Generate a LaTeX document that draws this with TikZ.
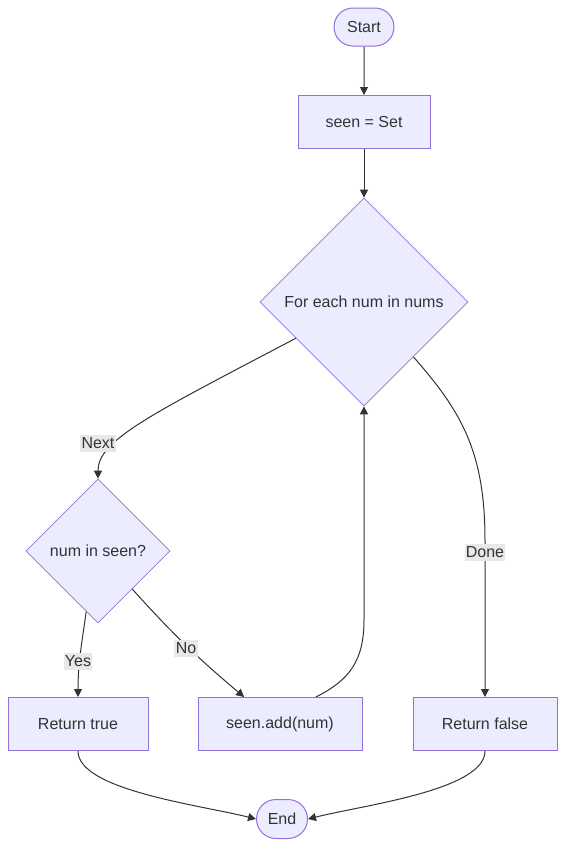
\documentclass[tikz,border=0pt]{standalone}
\usepackage{fontspec}
\setmainfont{Liberation Sans}
\usetikzlibrary{shapes.geometric}
\usetikzlibrary{shapes.misc}
\usetikzlibrary{arrows.meta}

\definecolor{boxfill}{HTML}{ECECFF}
\definecolor{boxline}{HTML}{9370DB}
\definecolor{edgeline}{HTML}{333333}
\definecolor{lblfill}{HTML}{E8E8E8}

\begin{document}
\begin{tikzpicture}[x=0.75pt, y=0.75pt,
    font=\fontsize{12}{14}\selectfont, text=edgeline,
    box/.style={draw=boxline, fill=boxfill, line width=0.75pt, minimum height=39.75pt, inner sep=0pt},
    term/.style={box, rounded rectangle},
    test/.style={box, diamond, line width=0.5pt},
    lbl/.style={fill=lblfill, inner xsep=1pt, inner ysep=0pt, minimum height=12.75pt},
    flow/.style={draw=edgeline, line width=0.75pt, -{Triangle[length=6pt, width=6pt]}}]
  \path[use as bounding box, fill=white] (0, 0) rectangle (573, -858);

  % nodes
  \node[term, minimum width=45pt, minimum height=28.5pt] (start) at (364, -27) {Start};
  \node[box, minimum width=99pt] (seen) at (364, -122) {seen = Set};
  \node[test, minimum width=156pt, minimum height=156pt] (loop) at (364, -302) {For each num in nums};
  \node[test, minimum width=108pt, minimum height=108pt] (check) at (98, -551) {num in seen?};
  \node[box, minimum width=105pt] (rtrue) at (78, -724) {Return true};
  \node[box, minimum width=123pt] (addn) at (280, -724) {seen.add(num)};
  \node[box, minimum width=108pt] (rfalse) at (485, -724) {Return false};
  \node[term, minimum width=38.25pt, minimum height=29.25pt] (stop) at (282, -819) {End};

  % connectors
  \draw[flow] (start) -- (seen);
  \draw[flow] (seen) -- (loop);
  \draw[flow] (loop.208) .. controls (150, -415) and (98, -440) .. (check.north);
  \draw[flow] (loop.312) .. controls (460, -410) and (485, -450) .. (485, -540) -- (rfalse.north);
  \draw[flow] (check.259) to[out=262, in=90] (rtrue.north);
  \draw[flow] (check.312) to[out=-48, in=140] (addn.143);
  \draw[flow] (addn.37) .. controls (350, -680) and (364, -660) .. (364, -620) -- (loop.south);
  \draw[flow] (rtrue.south) .. controls (78, -790) and (200, -805) .. (stop.west);
  \draw[flow] (rfalse.south) .. controls (485, -790) and (364, -805) .. (stop.east);

  % edge labels
  \node[lbl] (lnext) at (98, -443) {Next};
  \node[lbl] (ldone) at (485, -552) {Done};
  \node[lbl] (lyes) at (78, -661) {Yes};
  \node[lbl] (lno) at (186, -648) {No};
\end{tikzpicture}
\end{document}
